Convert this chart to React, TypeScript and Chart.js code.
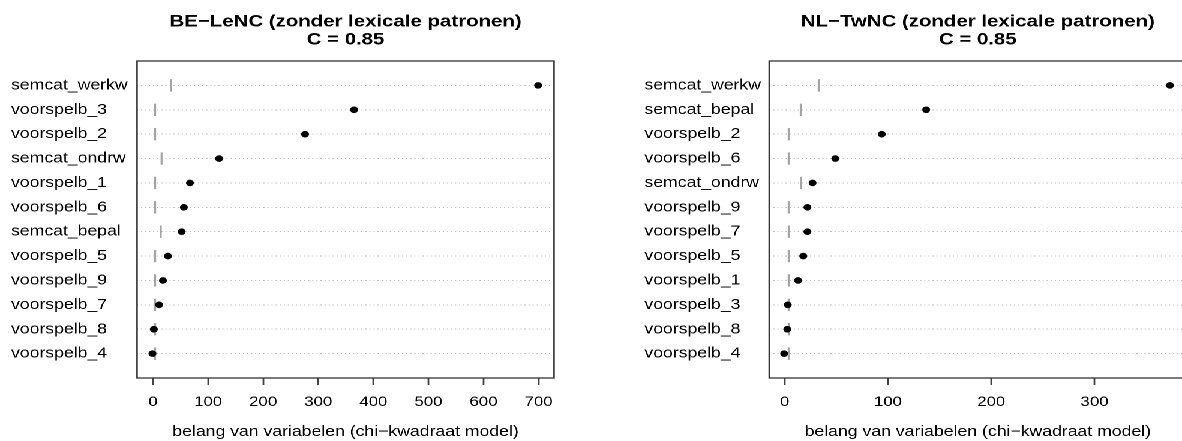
import React, { useEffect, useRef } from "react";
import { Chart, registerables } from "chart.js";

Chart.register(...registerables);

const FONT = "'Liberation Sans', Arial, Helvetica, sans-serif";

// ---- data (top to bottom) ----
const LEFT_TITLE = "BE\u2212LeNC (zonder lexicale patronen)";
const RIGHT_TITLE = "NL\u2212TwNC (zonder lexicale patronen)";
const SUBTITLE = "C = 0.85";
const X_TITLE = "belang van variabelen (chi\u2212kwadraat model)";

const LEFT_LABELS = [
  "semcat_werkw", "voorspelb_3", "voorspelb_2", "semcat_ondrw", "voorspelb_1", "voorspelb_6",
  "semcat_bepal", "voorspelb_5", "voorspelb_9", "voorspelb_7", "voorspelb_8", "voorspelb_4",
];
const LEFT_VALUES = [699, 365, 276, 120, 67, 56, 52, 27, 18, 11, 1.5, -1];
const LEFT_REF = [32.7, 3.84, 3.84, 15.5, 3.84, 3.84, 14.1, 3.84, 3.84, 3.84, 3.84, 3.84];
const LEFT_TICKS = [0, 100, 200, 300, 400, 500, 600, 700];
const LEFT_MIN = -29;
const LEFT_MAX = 728;

const RIGHT_LABELS = [
  "semcat_werkw", "semcat_bepal", "voorspelb_2", "voorspelb_6", "semcat_ondrw", "voorspelb_9",
  "voorspelb_7", "voorspelb_5", "voorspelb_1", "voorspelb_3", "voorspelb_8", "voorspelb_4",
];
const RIGHT_VALUES = [373, 137, 94, 49, 27, 22, 22, 18, 13, 3, 2.5, -0.5];
const RIGHT_REF = [32.9, 15.5, 3.84, 3.84, 15.8, 3.84, 3.84, 3.84, 3.84, 3.84, 3.84, 3.84];
const RIGHT_TICKS = [0, 100, 200, 300];
const RIGHT_MIN = -15;
const RIGHT_MAX = 389;

const STRETCH = 1.2;

const boxPlugin = {
  id: "rbox",
  afterDraw(chart: any) {
    const { ctx, chartArea } = chart;
    const { left, top, right, bottom } = chartArea;
    ctx.save();
    ctx.strokeStyle = "#333";
    ctx.lineWidth = 1.3;
    ctx.strokeRect(left, top, right - left, bottom - top);
    ctx.restore();
  },
};

function makeConfig(
  title: string,
  labels: string[],
  values: number[],
  refs: number[],
  ticks: number[],
  xmin: number,
  xmax: number,
  padLeft: number,
  padRight: number,
  yWidth: number
): any {
  const n = labels.length;
  const dots = values.map((v, i) => ({ x: v, y: n - i }));
  const marks = refs.map((v, i) => ({ x: v, y: n - i }));
  return {
    type: "scatter",
    data: {
      datasets: [
        {
          data: dots,
          pointRadius: 3.3,
          pointBackgroundColor: "#000",
          pointBorderColor: "#000",
          pointBorderWidth: 0,
          showLine: false,
        },
        {
          data: marks,
          pointStyle: "line",
          rotation: 90,
          pointRadius: 6.2,
          pointBorderColor: "#a4a4a4",
          pointBorderWidth: 1.6,
          showLine: false,
        },
      ],
    },
    options: {
      responsive: false,
      animation: false,
      devicePixelRatio: 2,
      events: [],
      layout: { padding: { left: padLeft, right: padRight, top: 0, bottom: 0 } },
      plugins: {
        legend: { display: false },
        tooltip: { enabled: false },
        title: {
          display: true,
          fullSize: false,
          text: [title, SUBTITLE],
          color: "#000",
          font: { family: FONT, size: 17, weight: "bold", lineHeight: 18 / 17 },
          padding: { top: 13, bottom: 12 },
        },
      },
      scales: {
        x: {
          type: "linear",
          min: xmin,
          max: xmax,
          afterBuildTicks: (s: any) => {
            s.ticks = ticks.map((v) => ({ value: v }));
          },
          afterFit: (s: any) => {
            s.height = 63;
          },
          ticks: {
            color: "#000",
            font: { family: FONT, size: 14 },
            padding: 8.5,
            maxRotation: 0,
            autoSkip: false,
          },
          grid: {
            drawOnChartArea: false,
            drawTicks: true,
            tickLength: 7,
            tickColor: "#444",
            tickWidth: 1.4,
            color: "#444",
          },
          border: { display: false },
          title: {
            display: true,
            text: X_TITLE,
            color: "#000",
            font: { family: FONT, size: 14.7 },
            padding: { top: 0, bottom: 0 },
          },
        },
        y: {
          type: "linear",
          min: 0,
          max: n + 1,
          afterBuildTicks: (s: any) => {
            s.ticks = labels.map((_, i) => ({ value: i + 1 }));
          },
          afterFit: (s: any) => {
            s.width = yWidth;
          },
          ticks: {
            color: "#000",
            font: { family: FONT, size: 14.7 },
            crossAlign: "far",
            autoSkip: false,
            callback: (v: any) => labels[n - Number(v)],
          },
          grid: {
            drawTicks: false,
            color: "#bdbdbd",
            lineWidth: 1,
          },
          border: { display: false, dash: [1, 2.4] },
        },
      },
    },
    plugins: [boxPlugin],
  };
}

function Panel(props: { cfg: () => any; left: number; width: number }) {
  const ref = useRef<HTMLCanvasElement | null>(null);
  useEffect(() => {
    if (!ref.current) return;
    const chart = new Chart(ref.current, props.cfg());
    return () => chart.destroy();
  }, []);
  return (
    <div style={{ position: "absolute", left: props.left, top: 0, width: props.width, height: 441 }}>
      <canvas ref={ref} width={props.width} height={441} />
    </div>
  );
}

export default function App() {
  return (
    <div
      style={{
        position: "fixed",
        left: 0,
        top: 0,
        width: 1182,
        height: 441,
        overflow: "hidden",
        background: "#fff",
      }}
    >
      <div
        style={{
          position: "absolute",
          left: 0,
          top: 0,
          width: 1182 / STRETCH,
          height: 441,
          transform: `scaleX(${STRETCH})`,
          transformOrigin: "0 0",
        }}
      >
        <Panel
          left={0}
          width={492}
          cfg={() =>
            makeConfig(LEFT_TITLE, LEFT_LABELS, LEFT_VALUES, LEFT_REF, LEFT_TICKS, LEFT_MIN, LEFT_MAX, 9.2, 30.3, 105)
          }
        />
        <Panel
          left={491.7}
          width={510}
          cfg={() =>
            makeConfig(RIGHT_TITLE, RIGHT_LABELS, RIGHT_VALUES, RIGHT_REF, RIGHT_TICKS, RIGHT_MIN, RIGHT_MAX, 45, 13.3, 104)
          }
        />
      </div>
    </div>
  );
}
